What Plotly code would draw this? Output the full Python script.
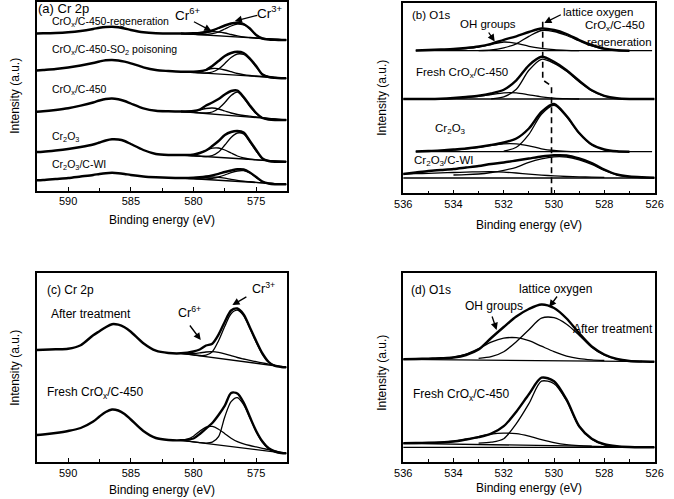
import plotly.graph_objects as go

W, H = 674, 499
FONT = "Arial, Liberation Sans, sans-serif"

# ---------------- Panel (a): Cr 2p, five samples ----------------
CR_X = [592.5, 592, 591, 590, 589, 588, 587.5, 587, 586.5, 586, 585.5, 585, 584, 583, 582, 581,
        580, 579.5, 579, 578.5, 578, 577.5, 577, 576.5, 576, 575.5, 575, 574.5, 574, 573.5, 573, 572.6]
F_X = [581, 580.5, 580, 579.5, 579, 578.5, 578, 577.5, 577, 576.5, 576, 575.5, 575, 574.5, 574, 573.5, 573, 572.6]
BASE_X_CR = [581, 572.6]

A_REGEN = [157, 157.2, 157.5, 158.2, 159.5, 161.5, 162.7, 163.5, 163.8, 163.2, 162, 160.5, 158.2, 157.2, 157, 157,
           157.2, 157.5, 158.5, 160, 162.5, 165, 167, 167.7, 166.5, 162, 155.5, 152, 151, 150.7, 150.5, 150.5]
A_REGEN_CR6 = [157, 156.8, 156.7, 157, 158, 158.8, 158.5, 157.5, 156, 154.7, 153.6, 153, 152.5, 152, 151.6, 151.2, 150.8, 150.5]
A_REGEN_CR3 = [157, 156.6, 156.3, 156, 156, 156.8, 158.5, 161.5, 164.5, 166.3, 165.5, 161.8, 155.4, 152, 151.2, 150.8, 150.6, 150.5]
A_REGEN_BASE = [157, 150.5]

A_SO2 = [120, 120.5, 121.5, 123, 125, 127.5, 129, 130.2, 130.5, 130, 128.8, 127.2, 123.2, 120.5, 119.5, 118.8,
         118.8, 119.2, 120.5, 124.5, 129.5, 134.5, 137.5, 138.7, 137.5, 132, 124.5, 116, 113.5, 112.7, 112.3, 112.2]
A_SO2_CR6 = [118.8, 118.6, 118.5, 119, 120.5, 122, 121.8, 120.5, 118.8, 117, 115.8, 115, 114.5, 114, 113.5, 113, 112.5, 112.2]
A_SO2_CR3 = [118.8, 118.4, 118, 117.6, 117.5, 118.5, 121.5, 127, 133, 136.5, 136, 131, 123.5, 116.5, 113.8, 112.8, 112.4, 112.2]
A_SO2_BASE = [118.8, 112.2]

A_C450 = [78.8, 79.2, 80.5, 82.2, 84.8, 88, 90, 91.5, 92, 91.2, 89.5, 87, 82.2, 79.7, 79.2, 79,
          79.5, 81, 85, 88, 91.5, 96, 99.5, 100, 93.5, 85, 77.5, 72.5, 71, 70.5, 70.5, 70.5]
A_C450_CR6 = [79, 79, 79.3, 80.5, 82, 82.5, 81.5, 79.5, 77.5, 76, 75, 74.3, 73.6, 72.9, 72.2, 71.5, 70.9, 70.5]
A_C450_CR3 = [79, 78.6, 78.2, 77.8, 77.5, 78.5, 82, 88, 95, 98.5, 92.5, 84, 77, 72.5, 71.2, 70.8, 70.6, 70.5]
A_C450_BASE = [79, 70.5]

A_CR2O3 = [38.5, 38.8, 40, 41.5, 43.5, 46, 48, 50, 51.2, 51, 49.5, 46.5, 40.5, 36.5, 35.5, 35.5,
           35.8, 37.5, 40, 44.5, 49.5, 55.5, 58.5, 59.5, 58, 49.5, 40.5, 32, 29.5, 28.8, 28.8, 28.8]
A_CR2O3_CR6 = [35.5, 35.5, 36, 37.5, 40, 42.3, 42.5, 40.5, 37.5, 34.5, 32.5, 31.3, 30.6, 30.1, 29.7, 29.3, 29, 28.8]
A_CR2O3_CR3 = [35.5, 35.1, 34.7, 34.3, 34, 35, 38.5, 45.5, 53, 57.5, 56.5, 48.5, 39.5, 31.8, 29.5, 29, 28.8, 28.8]
A_CR2O3_BASE = [35.5, 28.8]

A_CWI = [10.2, 10.5, 11.5, 12.5, 14, 15.5, 16.5, 17.3, 17.7, 17.3, 16.5, 15.5, 14, 13.2, 12.7, 12.5,
         12.7, 13.2, 14, 15.2, 16.7, 18.5, 20, 21.2, 21, 18, 13.5, 9, 7, 6.3, 6.2, 6.2]
A_CWI_CR6 = [12.5, 12.3, 12.2, 12.5, 13.2, 13.5, 13.2, 12.3, 11.2, 10.2, 9.4, 8.8, 8.2, 7.7, 7.2, 6.8, 6.4, 6.2]
A_CWI_CR3 = [12.5, 12.1, 11.8, 11.6, 11.6, 12.2, 13.5, 15.5, 17.8, 19.5, 19.8, 17.5, 13, 8.7, 6.9, 6.4, 6.2, 6.2]
A_CWI_BASE = [12.5, 6.2]

# ---------------- Panel (b): O1s, four samples ----------------
O_X = [536, 535.5, 535, 534.5, 534, 533.5, 533, 532.5, 532, 531.5, 531, 530.5, 530, 529.5, 529, 528.5, 528, 527.5, 527, 526.5, 526]
N = None
B_REGEN = [N, 142.8, 143.3, 143.8, 144.3, 145.3, 146.8, 149.5, 153.5, 157, 161.3, 164.8, 163.3, 159.3, 153.3, 148.3, 144.6, 143, 142.6, N, N]
B_REGEN_LAT = [N, N, N, N, N, N, 142.7, 143.3, 145.5, 149.5, 157, 162.8, 161.8, 157.8, 152.3, 147.3, 144.3, 143, 142.6, N, N]
B_REGEN_OH = [N, N, 143.1, 143.3, 143.8, 144.8, 146.3, 148.8, 151.3, 150, 147, 145, 143.6, 143, 142.7, N, N, N, N, N, N]
B_REGEN_BX = [535.5, 526.1]
B_REGEN_BASE = [142.6, 142.6]

B_FRESH = [94.3, 94.3, 94.3, 94.6, 95.3, 96.3, 97.5, 99.8, 103.5, 113, 128, 136.5, 131.5, 123, 112.5, 103, 97.5, 95, 94.3, 94.3, 94.3]
B_FRESH_LAT = [N, N, N, N, N, N, N, 94.5, 96.5, 104, 123, 134, 130, 122, 111.5, 102.5, 97.2, 95, 94.3, N, N]
B_FRESH_OH = [N, N, N, 94.4, 95, 95.8, 97, 98.8, 100.5, 100.5, 98.5, 96.5, 95.2, 94.6, 94.3, N, N, N, N, N, N]
B_FRESH_BX = [536, 526]
B_FRESH_BASE = [94.3, 94.3]

B_CR2O3 = [N, 41.8, 42.3, 42.8, 43.8, 44.8, 46.3, 48.3, 50.8, 54.8, 64.8, 81.3, 89.3, 77.3, 60.3, 48.8, 43.8, 42, 41.6, N, N]
B_CR2O3_LAT = [N, N, N, N, N, N, N, N, 42.2, 46, 59, 79, 88, 76.5, 60, 48.5, 43.7, 42, 41.6, N, N]
B_CR2O3_OH = [N, N, 42, 42.5, 43.3, 44.5, 46, 48, 49.5, 49.5, 47.5, 44.5, 42.8, 42, 41.6, N, N, N, N, N, N]
B_CR2O3_BX = [535.5, 526.1]
B_CR2O3_BASE = [41.6, 41.6]

B_CWI = [19.3, 20.8, 22.3, 23.3, 24.3, 25.8, 27.3, 29.3, 30.8, 32.8, 34.8, 36.8, 38, 37.8, 34.8, 30.3, 23.8, 18.8, 16.8, 16, 15.6]
B_CWI_LAT = [N, N, N, N, 18.3, 18.6, 19.3, 20.8, 23, 26, 31, 34.5, 36.5, 36.3, 33.5, 29, 23, 18.5, 16.5, 15.8, 15.6]
B_CWI_OH = [19.3, 19.6, 20, 20.4, 20.8, 21.2, 21.5, 21.6, 21.2, 20.3, 19.2, 18.2, 17.4, 16.8, 16.4, 16.2, 16, N, N, N, N]
B_CWI_BX = [536, 526]
B_CWI_BASE = [15.3, 15.3]

# guide line for the lattice-oxygen position (dashed)
DASH_X = [530.45, 530.45, 530.1, 530.1]
DASH_Y = [171.5, 113.3, 107.3, 0]

# ---------------- Panel (c): Cr 2p, after treatment vs fresh ----------------
C_AFTER = [111.7, 111.9, 112.4, 113, 116.5, 126.5, 130.5, 134.5, 137.5, 137, 134.5, 130, 118.5, 111, 108.7, 108.4,
           110.2, 112.2, 116.2, 118, 127, 140, 151.2, 153.2, 147.2, 134.2, 120.7, 108.2, 99.7, 95.7, 94.7, 94.4]
C_AFTER_CR6 = [108.4, 108.2, 108.2, 108.8, 109.7, 110, 109.3, 107.8, 106, 104.2, 102.7, 101.3, 100, 98.8, 97.6, 96.5, 95.3, 94.4]
C_AFTER_CR3 = [108.4, 107.6, 106.8, 106.2, 106.5, 110, 121, 135.5, 148, 151.5, 146, 133.5, 119.5, 107.5, 99.5, 96, 94.8, 94.4]
C_AFTER_BASE = [108.4, 94.4]

C_FRESH = [26.7, 27.2, 28.7, 30.7, 33.7, 40.2, 45.2, 49.7, 52.2, 51.2, 47.7, 42.2, 30.7, 23.7, 21.7, 21.4,
           23.2, 27.7, 33.2, 38.7, 46.7, 56, 68.7, 68.2, 59.2, 44.7, 30.7, 20.2, 13.4, 10.2, 8.7, 8.4]
C_FRESH_CR6 = [21.4, 22.5, 25.5, 30.5, 34.5, 35.3, 32.5, 28, 23.5, 20, 17.8, 16.2, 14.8, 13.4, 12, 10.7, 9.3, 8.4]
C_FRESH_CR3 = [21.4, 20.6, 19.9, 19.1, 18.6, 19.5, 25, 45, 60, 64, 57, 44, 30, 19.5, 13, 10, 8.7, 8.4]
C_FRESH_BASE = [21.4, 8.4]

# ---------------- Panel (d): O1s, after treatment vs fresh ----------------
D_AFTER = [102.4, 102.7, 103.1, 103.5, 104.2, 106.7, 112.2, 123.7, 134.7, 145.2, 152.7, 157.2, 153.7, 143.2, 128.4, 115.2, 107.2, 102.7, 100.7, 100.2, 100]
D_AFTER_LAT = [N, N, N, N, N, N, 103.3, 105, 110, 120, 132, 143.5, 144, 137.5, 126.5, 114.5, 106.5, 102.5, 100.7, 100.2, N]
D_AFTER_OH = [N, N, 103, 103.5, 104.5, 107.5, 113, 119.5, 123.5, 124, 121, 115.5, 110, 105.5, 103, 101.8, 101.2, N, N, N, N]
D_AFTER_BX = [536, 526]
D_AFTER_BASE = [102.4, 100]

D_FRESH = [18.4, 18.7, 18.9, 19.2, 20.2, 22.2, 24.5, 28, 35.5, 50, 67.5, 84, 80.5, 62, 35.5, 23, 17.5, 15.5, 14.7, 14.4, 14.4]
D_FRESH_LAT = [N, N, N, N, N, N, 18.5, 19.5, 23, 38, 58, 80.5, 78, 61, 35, 22.5, 16.8, 15.3, 14.7, 14.4, N]
D_FRESH_OH = [N, N, 19, 19.5, 20.5, 22.5, 25, 27.5, 28.5, 28, 25.5, 22, 19, 17, 16, 15.5, N, N, N, N, N]
D_FRESH_BX = [536, 526]
D_FRESH_BASE = [18.4, 14.4]
D_FRESH_FLOOR = [14.4, 14.4]

# ------------------------------------------------------------------
fig = go.Figure()
AX = {"a": ("x", "y"), "b": ("x2", "y2"), "c": ("x3", "y3"), "d": ("x4", "y4")}


def add(panel, x, y, w=1.3, dash="solid", shape="spline"):
    xa, ya = AX[panel]
    fig.add_trace(go.Scatter(x=x, y=y, xaxis=xa, yaxis=ya, mode="lines",
                             line=dict(color="black", width=w, dash=dash, shape=shape,
                                       smoothing=0.8 if shape == "spline" else None),
                             hoverinfo="skip", showlegend=False))


def spectrum(panel, x, env, fx, comps, bx, base):
    add(panel, bx, base, 1.3, shape="linear")
    for c in comps:
        add(panel, fx, c, 1.3)
    add(panel, x, env, 2.4)


spectrum("a", CR_X, A_REGEN, F_X, [A_REGEN_CR6, A_REGEN_CR3], BASE_X_CR, A_REGEN_BASE)
spectrum("a", CR_X, A_SO2, F_X, [A_SO2_CR6, A_SO2_CR3], BASE_X_CR, A_SO2_BASE)
spectrum("a", CR_X, A_C450, F_X, [A_C450_CR6, A_C450_CR3], BASE_X_CR, A_C450_BASE)
spectrum("a", CR_X, A_CR2O3, F_X, [A_CR2O3_CR6, A_CR2O3_CR3], BASE_X_CR, A_CR2O3_BASE)
spectrum("a", CR_X, A_CWI, F_X, [A_CWI_CR6, A_CWI_CR3], BASE_X_CR, A_CWI_BASE)

spectrum("b", O_X, B_REGEN, O_X, [B_REGEN_LAT, B_REGEN_OH], B_REGEN_BX, B_REGEN_BASE)
spectrum("b", O_X, B_FRESH, O_X, [B_FRESH_LAT, B_FRESH_OH], B_FRESH_BX, B_FRESH_BASE)
spectrum("b", O_X, B_CR2O3, O_X, [B_CR2O3_LAT, B_CR2O3_OH], B_CR2O3_BX, B_CR2O3_BASE)
spectrum("b", O_X, B_CWI, O_X, [B_CWI_LAT, B_CWI_OH], B_CWI_BX, B_CWI_BASE)
add("b", DASH_X, DASH_Y, 1.6, dash="6px,4px", shape="linear")

spectrum("c", CR_X, C_AFTER, F_X, [C_AFTER_CR6, C_AFTER_CR3], BASE_X_CR, C_AFTER_BASE)
spectrum("c", CR_X, C_FRESH, F_X, [C_FRESH_CR6, C_FRESH_CR3], BASE_X_CR, C_FRESH_BASE)

spectrum("d", O_X, D_AFTER, O_X, [D_AFTER_LAT, D_AFTER_OH], D_AFTER_BX, D_AFTER_BASE)
spectrum("d", O_X, D_FRESH, O_X, [D_FRESH_LAT, D_FRESH_OH], D_FRESH_BX, D_FRESH_BASE)
add("d", D_FRESH_BX, D_FRESH_FLOOR, 1.3, shape="linear")


# ---------------- axes ----------------
def xd(l, r):
    return [l / W, r / W]


def yd(t, b):
    return [1 - b / H, 1 - t / H]


def xaxis(dom, rng, dtick, mdtick, anchor):
    return dict(domain=dom, range=rng, anchor=anchor, tickmode="linear", tick0=0, dtick=dtick,
                ticks="inside", ticklen=4, tickwidth=1.2, tickcolor="black",
                minor=dict(tick0=0, dtick=mdtick, ticks="inside", ticklen=2.5, tickwidth=1, tickcolor="black"),
                showline=True, linecolor="black", linewidth=1.5, mirror=True,
                showgrid=False, zeroline=False,
                tickfont=dict(family=FONT, size=11, color="black"))


def yaxis(dom, top, anchor):
    return dict(domain=dom, range=[0, top], anchor=anchor, showline=True, linecolor="black",
                linewidth=1.5, mirror=True, ticks="", showticklabels=False,
                showgrid=False, zeroline=False)


CR_RANGE = [592.52, 572.55]
O_RANGE = [536, 526]

fig.update_layout(
    width=W, height=H, margin=dict(l=0, r=0, t=0, b=0, pad=0),
    paper_bgcolor="white", plot_bgcolor="white",
    font=dict(family=FONT, color="black"),
    xaxis=xaxis(xd(28.3, 285.5), CR_RANGE, 5, 2.5, "y"),
    yaxis=yaxis(yd(2, 190.5), 188.5, "x"),
    xaxis2=xaxis(xd(405, 663.3), O_RANGE, 2, 1, "y2"),
    yaxis2=yaxis(yd(3, 193.3), 190.3, "x2"),
    xaxis3=xaxis(xd(28.3, 285.5), CR_RANGE, 5, 2.5, "y3"),
    yaxis3=yaxis(yd(273.3, 461.7), 188.4, "x3"),
    xaxis4=xaxis(xd(405, 663.3), O_RANGE, 2, 1, "y4"),
    yaxis4=yaxis(yd(273.3, 461.7), 188.4, "x4"),
)

# ---------------- text ----------------
ann = []


def txt(s, px, py, size=12, anchor="left"):
    ann.append(dict(text=s, x=px / W, y=1 - py / H, xref="paper", yref="paper", showarrow=False,
                    xanchor=anchor, yanchor="middle", borderpad=0,
                    font=dict(family=FONT, size=size, color="black")))


def arrow(tx, ty, hx, hy):
    ann.append(dict(text="", x=hx / W, y=1 - hy / H, xref="paper", yref="paper", showarrow=True,
                    ax=tx - hx, ay=ty - hy, arrowhead=2, arrowsize=1.1, arrowwidth=1.3, arrowcolor="black"))


def vtxt(s, px, py, size=12):
    ann.append(dict(text=s, x=px / W, y=1 - py / H, xref="paper", yref="paper", showarrow=False,
                    textangle=-90, xanchor="center", yanchor="middle", borderpad=0,
                    font=dict(family=FONT, size=size, color="black")))


# panel a
txt("(a) Cr 2p", 29, 8, 13)
txt("CrO<sub>x</sub>/C-450-regeneration", 43, 22.5, 10.5)
txt("CrO<sub>x</sub>/C-450-SO<sub>2</sub> poisoning", 43, 50, 10.5)
txt("CrO<sub>x</sub>/C-450", 43, 90, 10.5)
txt("Cr<sub>2</sub>O<sub>3</sub>", 43, 137, 10.5)
txt("Cr<sub>2</sub>O<sub>3</sub>/C-WI", 43, 165, 10.5)
txt("Cr<sup>6+</sup>", 183, 14, 13.5, "center")
txt("Cr<sup>3+</sup>", 268, 12, 13.5, "center")
arrow(189, 21, 208, 31)
arrow(256, 15, 232, 21)
txt("Binding energy (eV)", 157, 220, 12, "center")
vtxt("Intensity (a.u.)", 6, 96)

# panel b
txt("(b) O1s", 413, 15, 11.5)
txt("OH groups", 492, 24, 11.5, "center")
arrow(492, 31, 499, 41.5)
txt("lattice oxygen", 605, 12, 11.5, "center")
arrow(568, 14, 550, 23)
txt("CrO<sub>x</sub>/C-450", 623, 26, 11.5, "center")
txt("regeneration", 627, 41.5, 11.5, "center")
txt("Fresh CrO<sub>x</sub>/C-450", 417, 73.5, 11.5)
txt("Cr<sub>2</sub>O<sub>3</sub>", 437, 129, 11.5)
txt("Cr<sub>2</sub>O<sub>3</sub>/C-WI", 415, 161, 11.5)
txt("Binding energy (eV)", 534, 225, 12, "center")
vtxt("Intensity (a.u.)", 383, 98)

# panel c
txt("(c) Cr 2p", 38, 289.5, 12)
txt("After treatment", 42, 313.5, 12)
txt("Fresh CrO<sub>x</sub>/C-450", 38, 393, 12)
txt("Cr<sup>6+</sup>", 185, 312, 12.5, "center")
arrow(185, 324, 197, 340)
txt("Cr<sup>3+</sup>", 261, 288, 12.5, "center")
arrow(245, 296, 229.5, 305)
txt("Binding energy (eV)", 157, 490, 12, "center")
vtxt("Intensity (a.u.)", 6, 368)

# panel d
txt("(d) O1s", 412, 290, 12)
txt("lattice oxygen", 561, 288.5, 12, "center")
arrow(564, 295, 555, 307)
txt("OH groups", 498, 306, 12, "center")
arrow(496, 315, 501, 330)
txt("After treatment", 621, 329, 12, "center")
txt("Fresh CrO<sub>x</sub>/C-450", 414, 395, 12)
txt("Binding energy (eV)", 534, 488, 12, "center")
vtxt("Intensity (a.u.)", 383, 373)

fig.update_layout(annotations=ann)
fig.write_html("out.html", config={"displayModeBar": False},
               post_script="document.body.style.margin='0px';document.body.style.overflow='hidden';")
